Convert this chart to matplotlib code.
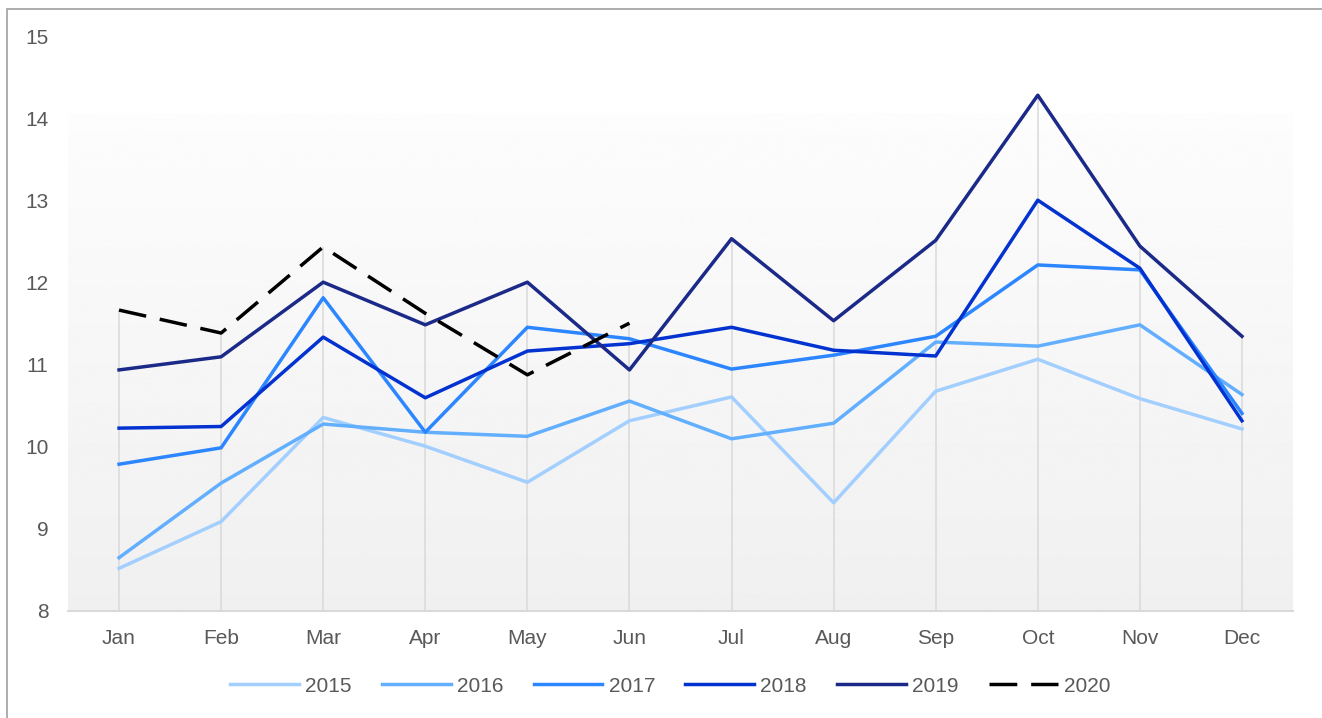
import numpy as np
import matplotlib
matplotlib.use("Agg")
import matplotlib.pyplot as plt
from matplotlib.patches import Rectangle

plt.rcParams["font.family"] = ["Liberation Sans", "DejaVu Sans"]

months = ["Jan", "Feb", "Mar", "Apr", "May", "Jun",
          "Jul", "Aug", "Sep", "Oct", "Nov", "Dec"]

y2015 = [8.52, 9.09, 10.36, 10.01, 9.57, 10.32, 10.61, 9.32, 10.68, 11.07, 10.59, 10.22]
y2016 = [8.65, 9.56, 10.28, 10.18, 10.13, 10.56, 10.10, 10.29, 11.28, 11.23, 11.49, 10.64]
y2017 = [9.79, 9.99, 11.82, 10.18, 11.46, 11.32, 10.95, 11.12, 11.35, 12.22, 12.16, 10.41]
y2018 = [10.23, 10.25, 11.34, 10.60, 11.17, 11.26, 11.46, 11.18, 11.11, 13.01, 12.18, 10.32]
y2019 = [10.94, 11.10, 12.01, 11.49, 12.01, 10.94, 12.54, 11.54, 12.52, 14.29, 12.45, 11.35]
y2020 = [11.67, 11.39, 12.44, 11.63, 10.88, 11.51]

series = [
    ("2015", y2015, "#a3cfff"),
    ("2016", y2016, "#63afff"),
    ("2017", y2017, "#2b86ff"),
    ("2018", y2018, "#0232d0"),
    ("2019", y2019, "#1b2a88"),
]

W, H = 1322, 718
fig = plt.figure(figsize=(W / 100, H / 100), dpi=100)
ax = fig.add_axes([68 / W, 1 - 611 / H, (1293 - 68) / W, (611 - 37) / H])

x = np.arange(len(months))

# soft grey gradient behind the lines
grad = np.linspace(0.94, 0.99, 256).reshape(-1, 1)
ax.imshow(grad, extent=[-0.5, 11.5, 8, 14.07], origin="lower", cmap="gray",
          vmin=0, vmax=1, aspect="auto", zorder=0)

# drop lines from the highest value down to the axis
tops = [max(vals) for vals in zip(*[s[1] for s in series])]
for i, v in enumerate(y2020):
    tops[i] = max(tops[i], v)
ax.vlines(x, 8, tops, color="#d9d9d9", lw=1.1, zorder=1)

for name, vals, col in series:
    ax.plot(x, vals, color=col, lw=2.5, label=name, zorder=3)
ax.plot(x[:len(y2020)], y2020, color="black", lw=2.5, dashes=(8, 4),
        label="2020", zorder=4)

ax.set_xlim(-0.5, 11.5)
ax.set_ylim(8, 15)
ax.set_xticks(x)
ax.set_xticklabels(months)
ax.set_yticks(range(8, 16))
ax.tick_params(axis="both", length=0, labelsize=15, labelcolor="#595959")
ax.tick_params(axis="y", pad=14)
ax.tick_params(axis="x", pad=13)

for side in ["left", "right", "top"]:
    ax.spines[side].set_visible(False)
ax.spines["bottom"].set_color("#d9d9d9")
ax.spines["bottom"].set_linewidth(1.5)
ax.set_facecolor("white")

fig.legend(loc="center", bbox_to_anchor=(0.507, 1 - 686 / H), ncol=6,
           frameon=False, fontsize=15, handlelength=3.3, handletextpad=0.3,
           columnspacing=1.45, labelcolor="#595959")

# outer border (cut off at the right and bottom like the source)
fig.patches.append(Rectangle((7 / W, -0.1), 1.2, 1 - 9 / H + 0.1,
                             transform=fig.transFigure, fill=False,
                             edgecolor="#a0a0a0", lw=1.2))

fig.savefig("out.png", dpi=100)
